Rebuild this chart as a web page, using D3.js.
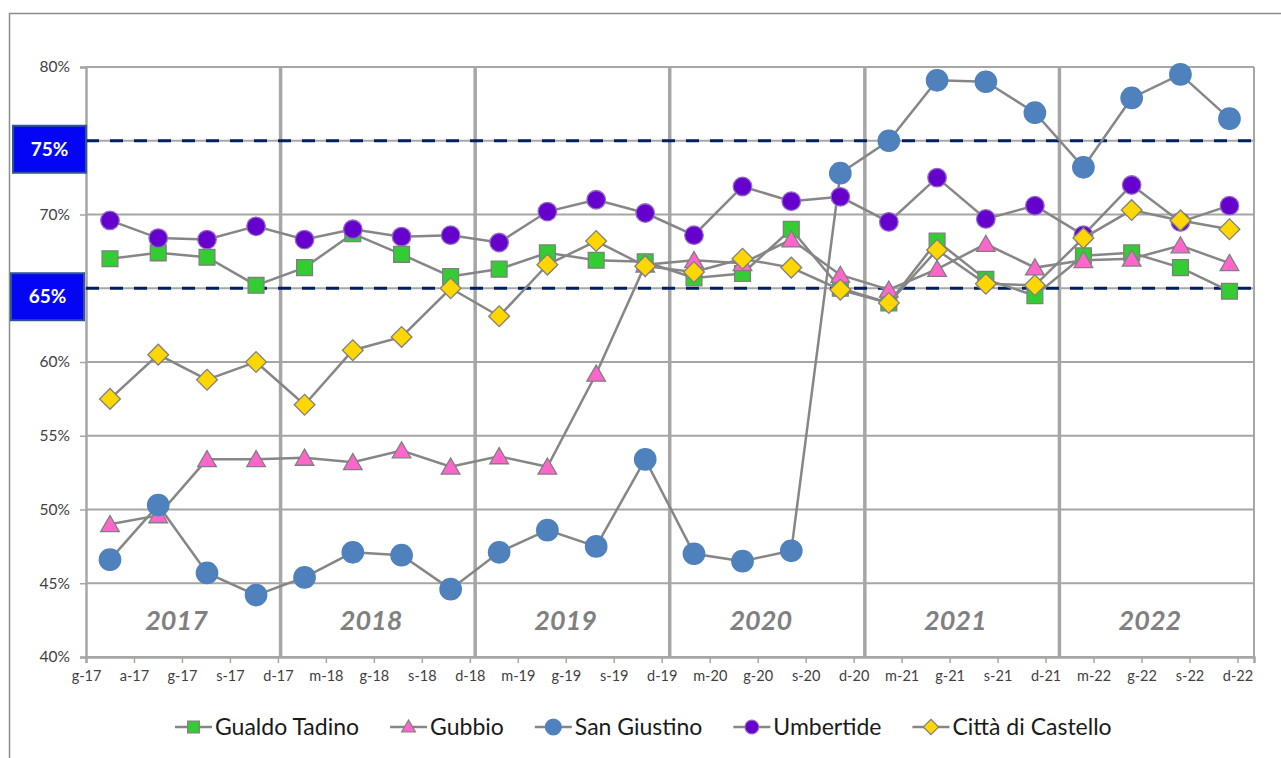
<!DOCTYPE html>
<html>
<head>
<meta charset="utf-8">
<script src="https://cdn.jsdelivr.net/npm/d3@7"></script>
<style>
  body { margin: 0; background: #fff; }
  text { font-family: Lato, "Open Sans", sans-serif; }
</style>
</head>
<body>
<div id="chart"></div>
<script>
// Chart data (percentages, one value per quarter 2017-2022)
var years = [2017, 2018, 2019, 2020, 2021, 2022];
var seriesNames = ["Gualdo Tadino", "Gubbio", "San Giustino", "Umbertide", "Città di Castello"];
var gualdoTadino = [67.0, 67.4, 67.1, 65.2, 66.4, 68.7, 67.3, 65.8, 66.3, 67.4, 66.9, 66.8, 65.7, 66.0, 69.0, 65.0, 64.0, 68.2, 65.6, 64.5, 67.2, 67.4, 66.4, 64.8];
var gubbio = [49.0, 49.6, 53.4, 53.4, 53.5, 53.2, 54.0, 52.9, 53.6, 52.9, 59.2, 66.6, 66.9, 66.7, 68.3, 65.9, 64.9, 66.3, 68.0, 66.4, 66.9, 67.0, 67.9, 66.7];
var sanGiustino = [46.6, 50.3, 45.7, 44.2, 45.4, 47.1, 46.9, 44.6, 47.1, 48.6, 47.5, 53.4, 47.0, 46.5, 47.2, 72.8, 75.0, 79.1, 79.0, 76.9, 73.2, 77.9, 79.5, 76.5];
var umbertide = [69.6, 68.4, 68.3, 69.2, 68.3, 69.0, 68.5, 68.6, 68.1, 70.2, 71.0, 70.1, 68.6, 71.9, 70.9, 71.2, 69.5, 72.5, 69.7, 70.6, 68.6, 72.0, 69.5, 70.6];
var cittaDiCastello = [57.5, 60.5, 58.8, 60.0, 57.1, 60.8, 61.7, 65.0, 63.1, 66.6, 68.2, 66.5, 66.1, 67.0, 66.4, 64.9, 64.0, 67.6, 65.3, 65.2, 68.4, 70.3, 69.6, 69.0];
var thresholds = [65, 75];
var yTicks = [40, 45, 50, 55, 60, 65, 70, 75, 80];
var xTickLabels = ["g-17", "a-17", "g-17", "s-17", "d-17",
  "m-18", "g-18", "s-18", "d-18", "m-19", "g-19", "s-19", "d-19",
  "m-20", "g-20", "s-20", "d-20", "m-21", "g-21", "s-21", "d-21",
  "m-22", "g-22", "s-22", "d-22"];

var width = 1281, height = 758;
var plot = { left: 86, right: 1254, top: 67, bottom: 657 };

var svg = d3.select("#chart").append("svg")
  .attr("width", width)
  .attr("height", height);

// outer chart frame
svg.append("rect")
  .attr("x", 9.5).attr("y", 13.5)
  .attr("width", 1300).attr("height", 800)
  .attr("fill", "#fff")
  .attr("stroke", "#8c8c8c")
  .attr("stroke-width", 1.5);

var start = new Date(Date.UTC(2017, 0, 1));
var end = new Date(Date.UTC(2023, 0, 1));
var x = d3.scaleUtc().domain([start, end]).range([plot.left, plot.right]);
var y = d3.scaleLinear().domain([40, 80]).range([plot.bottom, plot.top]);

// quarterly dates (middle of each quarter)
var pointDates = [];
years.forEach(function(yr) {
  for (var q = 0; q < 4; q++) {
    var a = Date.UTC(yr, q * 3, 1), b = Date.UTC(yr, q * 3 + 3, 1);
    pointDates.push(new Date((a + b) / 2));
  }
});
// axis ticks every 90 days, as in the source workbook
var tickDates = xTickLabels.map(function(d, i) { return d3.utcDay.offset(start, 90 * i); });

// horizontal gridlines
svg.append("g")
  .selectAll("line")
  .data(yTicks)
  .join("line")
  .attr("x1", plot.left).attr("x2", plot.right)
  .attr("y1", function(d) { return y(d); })
  .attr("y2", function(d) { return y(d); })
  .attr("stroke", "#a6a6a6")
  .attr("stroke-width", 2);

// right border
svg.append("line")
  .attr("x1", plot.right).attr("x2", plot.right)
  .attr("y1", plot.top).attr("y2", plot.bottom)
  .attr("stroke", "#a6a6a6").attr("stroke-width", 2);

// year separators
svg.append("g")
  .selectAll("line")
  .data(years.slice(1))
  .join("line")
  .attr("x1", function(d) { return x(new Date(Date.UTC(d, 0, 1))); })
  .attr("x2", function(d) { return x(new Date(Date.UTC(d, 0, 1))); })
  .attr("y1", plot.top).attr("y2", plot.bottom)
  .attr("stroke", "#a6a6a6")
  .attr("stroke-width", 3.5);

// y axis (the 65% / 75% labels are covered by the blue boxes)
var yAxis = d3.axisLeft(y)
  .tickValues(yTicks)
  .tickSize(6)
  .tickPadding(10)
  .tickFormat(function(d) { return thresholds.indexOf(d) >= 0 ? "" : d + "%"; });
var gy = svg.append("g")
  .attr("transform", "translate(" + plot.left + ",0)")
  .call(yAxis);
gy.select(".domain").attr("stroke", "#a6a6a6").attr("stroke-width", 2.5);
gy.selectAll(".tick line").attr("stroke", "#a6a6a6").attr("stroke-width", 1.5);
gy.selectAll(".tick text")
  .attr("font-size", 15.5)
  .attr("fill", "#404040")
  .style("font-family", "Lato, sans-serif");

// x axis
var xAxis = d3.axisBottom(x)
  .tickValues(tickDates)
  .tickSize(6)
  .tickPadding(8)
  .tickFormat(function(d, i) { return xTickLabels[i]; });
var gx = svg.append("g")
  .attr("transform", "translate(0," + plot.bottom + ")")
  .call(xAxis);
gx.select(".domain").attr("stroke", "#a6a6a6").attr("stroke-width", 2.5);
gx.selectAll(".tick line").attr("stroke", "#a6a6a6").attr("stroke-width", 1.5);
gx.selectAll(".tick text")
  .attr("font-size", 14.5)
  .attr("fill", "#404040")
  .style("font-family", "Lato, sans-serif");

// threshold lines
svg.append("g")
  .selectAll("line")
  .data(thresholds)
  .join("line")
  .attr("x1", plot.left).attr("x2", plot.right)
  .attr("y1", function(d) { return y(d); })
  .attr("y2", function(d) { return y(d); })
  .attr("stroke", "#002060")
  .attr("stroke-width", 3)
  .attr("stroke-dasharray", "13,11");

// threshold labels (blue boxes)
var tBox = svg.append("g")
  .selectAll("g")
  .data(thresholds)
  .join("g")
  .attr("transform", function(d, i) {
    return "translate(" + (i === 0 ? 11 : 13) + "," + (y(d) - 15) + ")";
  });
tBox.append("rect")
  .attr("width", 73).attr("height", 47)
  .attr("fill", "#0505f5")
  .attr("stroke", "#2f5597")
  .attr("stroke-width", 2);
tBox.append("text")
  .attr("x", 36.5).attr("y", 23.5)
  .attr("dy", "0.35em")
  .attr("text-anchor", "middle")
  .attr("fill", "#fff")
  .attr("font-size", 19)
  .attr("font-weight", "bold")
  .text(function(d) { return d + "%"; });

// year labels
svg.append("g")
  .selectAll("text")
  .data(years)
  .join("text")
  .attr("x", function(d) { return x(new Date(Date.UTC(d, 6, 1))) - 6; })
  .attr("y", 630)
  .attr("text-anchor", "middle")
  .attr("fill", "#808080")
  .attr("font-size", 27)
  .attr("font-weight", "bold")
  .attr("font-style", "italic")
  .text(function(d) { return d; });

// series
var seriesValues = [gualdoTadino, gubbio, sanGiustino, umbertide, cittaDiCastello];
var markers = [
  { type: d3.symbolSquare, size: 250, fill: "#33cc33", stroke: "#7f7f7f", rotate: 0 },
  { type: d3.symbolTriangle, size: 150, fill: "#ff66cc", stroke: "#7f7f7f", rotate: 0 },
  { type: d3.symbolCircle, size: 360, fill: "#4f81bd", stroke: "#4f81bd", rotate: 0 },
  { type: d3.symbolCircle, size: 270, fill: "#6600cc", stroke: "#8e6bc4", rotate: 0 },
  { type: d3.symbolSquare, size: 215, fill: "#ffd700", stroke: "#7f7f7f", rotate: 45 }
];

var line = d3.line()
  .x(function(d, i) { return x(pointDates[i]); })
  .y(function(d) { return y(d); });

seriesValues.forEach(function(vals, s) {
  var g = svg.append("g");
  g.append("path")
    .attr("d", line(vals))
    .attr("fill", "none")
    .attr("stroke", "#868686")
    .attr("stroke-width", 2.5);
  var m = markers[s];
  g.selectAll("path.pt")
    .data(vals)
    .join("path")
    .attr("class", "pt")
    .attr("d", d3.symbol().type(m.type).size(m.size))
    .attr("transform", function(d, i) {
      return "translate(" + x(pointDates[i]) + "," + (y(d) + (s === 1 ? 2 : 0)) + ") rotate(" + m.rotate + ")";
    })
    .attr("fill", m.fill)
    .attr("stroke", m.stroke)
    .attr("stroke-width", 1.3);
});

// legend
var legend = svg.append("g").attr("transform", "translate(175,727)");
var lx = 0;
seriesNames.forEach(function(name, s) {
  var item = legend.append("g").attr("transform", "translate(" + lx + ",0)");
  item.append("line")
    .attr("x1", 0).attr("x2", 37)
    .attr("stroke", "#868686").attr("stroke-width", 2.5);
  var m = markers[s];
  item.append("path")
    .attr("d", d3.symbol().type(m.type).size(m.size * 0.55))
    .attr("transform", "translate(18.5," + (s === 1 ? 1 : 0) + ") rotate(" + m.rotate + ")")
    .attr("fill", m.fill)
    .attr("stroke", m.stroke)
    .attr("stroke-width", 1.2);
  var t = item.append("text")
    .attr("x", 40)
    .attr("dy", "0.35em")
    .attr("font-size", 23)
    .attr("fill", "#1a1a1a")
    .text(name);
  lx += 40 + t.node().getComputedTextLength() + 31;
});
</script>
</body>
</html>
